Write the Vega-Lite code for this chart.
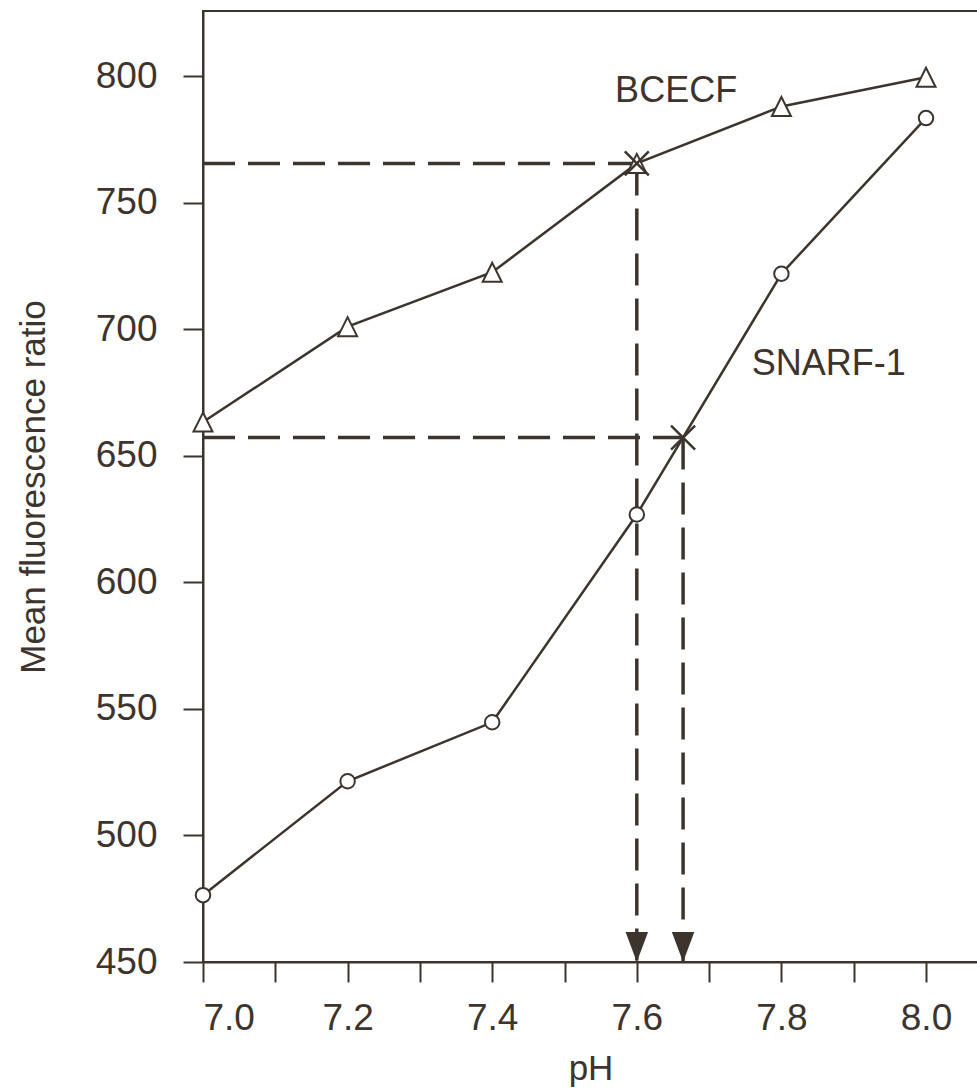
{
  "$schema": "https://vega.github.io/schema/vega-lite/v6.json",
  "autosize": "none",
  "padding": {"left": 203, "top": 11, "right": 0, "bottom": 129},
  "width": 775,
  "height": 951,
  "background": "white",
  "config": {
    "view": {"stroke": "#3d342d", "strokeWidth": 2},
    "font": "Liberation Sans",
    "axis": {
      "grid": false,
      "domainColor": "#3d342d",
      "domainWidth": 2,
      "tickColor": "#3d342d",
      "tickWidth": 2,
      "tickSize": 20,
      "labelColor": "#3d342d",
      "labelFont": "Liberation Sans",
      "labelFontSize": 37,
      "titleColor": "#3d342d",
      "titleFont": "Liberation Sans",
      "titleFontSize": 35,
      "titleFontWeight": "normal"
    }
  },
  "datasets": {
    "curves": [
      {"series": "BCECF", "pH": 7.0, "ratio": 663.3},
      {"series": "BCECF", "pH": 7.2, "ratio": 701.0},
      {"series": "BCECF", "pH": 7.4, "ratio": 722.5},
      {"series": "BCECF", "pH": 7.6, "ratio": 765.5},
      {"series": "BCECF", "pH": 7.8, "ratio": 788.0},
      {"series": "BCECF", "pH": 8.0, "ratio": 799.5},
      {"series": "SNARF-1", "pH": 7.0, "ratio": 476.4},
      {"series": "SNARF-1", "pH": 7.2, "ratio": 521.4},
      {"series": "SNARF-1", "pH": 7.4, "ratio": 544.7},
      {"series": "SNARF-1", "pH": 7.6, "ratio": 626.8},
      {"series": "SNARF-1", "pH": 7.8, "ratio": 721.9},
      {"series": "SNARF-1", "pH": 8.0, "ratio": 783.4}
    ],
    "guides": [
      {"pH": 7.0, "ratio": 765.5, "pH2": 7.6, "ratio2": 765.5},
      {"pH": 7.6, "ratio": 765.5, "pH2": 7.6, "ratio2": 450},
      {"pH": 7.0, "ratio": 657.2, "pH2": 7.664, "ratio2": 657.2},
      {"pH": 7.664, "ratio": 657.2, "pH2": 7.664, "ratio2": 450}
    ],
    "crosses": [
      {"pH": 7.6, "ratio": 765.5},
      {"pH": 7.664, "ratio": 657.2}
    ],
    "arrows": [
      {"pH": 7.6, "ratio": 450},
      {"pH": 7.664, "ratio": 450}
    ],
    "labels": [
      {"pH": 7.570, "ratio": 789.9, "text": "BCECF"},
      {"pH": 7.759, "ratio": 682.0, "text": "SNARF-1"}
    ]
  },
  "layer": [
    {
      "data": {"name": "curves"},
      "mark": {"type": "line", "color": "#3d342d", "strokeWidth": 2.5},
      "encoding": {
        "x": {
          "field": "pH", "type": "quantitative", "title": "pH",
          "scale": {"domain": [7.0, 8.0719], "nice": false, "zero": false},
          "axis": {
            "values": [7.0, 7.1, 7.2, 7.3, 7.4, 7.5, 7.6, 7.7, 7.8, 7.9, 8.0],
            "labelExpr": "round(datum.value * 10) % 2 == 0 ? format(datum.value, '.1f') : ''",
            "labelPadding": 18,
            "titlePadding": 15
          }
        },
        "y": {
          "field": "ratio", "type": "quantitative", "title": "Mean fluorescence ratio",
          "scale": {"domain": [450, 825.7], "nice": false, "zero": false},
          "axis": {
            "values": [450, 500, 550, 600, 650, 700, 750, 800],
            "labelPadding": 26,
            "titlePadding": 44
          }
        },
        "detail": {"field": "series"}
      }
    },
    {
      "data": {"name": "guides"},
      "mark": {"type": "rule", "color": "#3d342d", "strokeWidth": 3.5, "strokeDash": [32, 13]},
      "encoding": {
        "x": {"field": "pH", "type": "quantitative"},
        "y": {"field": "ratio", "type": "quantitative"},
        "x2": {"field": "pH2"},
        "y2": {"field": "ratio2"}
      }
    },
    {
      "data": {"name": "curves"},
      "transform": [{"filter": "datum.series == 'BCECF'"}],
      "mark": {"type": "point", "shape": "M0,-1L-1,1L1,1Z", "size": 361, "filled": true, "fill": "white", "fillOpacity": 1, "stroke": "#3d342d", "strokeWidth": 2, "opacity": 1},
      "encoding": {
        "x": {"field": "pH", "type": "quantitative"},
        "y": {"field": "ratio", "type": "quantitative"}
      }
    },
    {
      "data": {"name": "curves"},
      "transform": [{"filter": "datum.series == 'SNARF-1'"}],
      "mark": {"type": "point", "shape": "circle", "size": 210, "filled": true, "fill": "white", "fillOpacity": 1, "stroke": "#3d342d", "strokeWidth": 2, "opacity": 1},
      "encoding": {
        "x": {"field": "pH", "type": "quantitative"},
        "y": {"field": "ratio", "type": "quantitative"}
      }
    },
    {
      "data": {"name": "crosses"},
      "mark": {"type": "point", "shape": "M-1,-1L1,1M-1,1L1,-1", "size": 576, "filled": false, "stroke": "#3d342d", "strokeWidth": 2.5, "opacity": 1},
      "encoding": {
        "x": {"field": "pH", "type": "quantitative"},
        "y": {"field": "ratio", "type": "quantitative"}
      }
    },
    {
      "data": {"name": "arrows"},
      "mark": {"type": "point", "shape": "M-0.75,-2L0.75,-2L0,0Z", "size": 900, "filled": true, "fill": "#3d342d", "strokeWidth": 0, "opacity": 1},
      "encoding": {
        "x": {"field": "pH", "type": "quantitative"},
        "y": {"field": "ratio", "type": "quantitative"}
      }
    },
    {
      "data": {"name": "labels"},
      "mark": {"type": "text", "align": "left", "baseline": "alphabetic", "fontSize": 36, "font": "Liberation Sans", "color": "#3d342d"},
      "encoding": {
        "x": {"field": "pH", "type": "quantitative"},
        "y": {"field": "ratio", "type": "quantitative"},
        "text": {"field": "text"}
      }
    }
  ]
}
